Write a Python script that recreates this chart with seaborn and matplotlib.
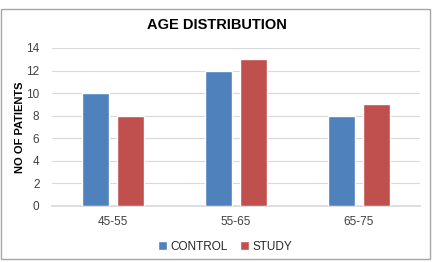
import matplotlib
matplotlib.use('Agg')
import matplotlib.pyplot as plt
import pandas as pd
import seaborn as sns
from matplotlib.patches import Rectangle

# datos del grafico
grupos_edad = ['45-55', '55-65', '65-75']
control = [10, 12, 8]
estudio = [8, 13, 9]

df = pd.DataFrame({
    'edad': grupos_edad * 2,
    'pacientes': control + estudio,
    'grupo': ['CONTROL'] * 3 + ['STUDY'] * 3,
})

sns.set_theme(style='white')
plt.rcParams['font.family'] = ['Liberation Sans Narrow', 'Liberation Sans', 'DejaVu Sans']

fig = plt.figure(figsize=(4.33, 2.62), dpi=100)
ax = fig.add_axes([0.120, 0.214, 0.850, 0.603])

sns.barplot(data=df, x='edad', y='pacientes', hue='grupo',
            palette=['#4F81BD', '#C0504D'], width=0.57, gap=0.23,
            saturation=1, ax=ax, zorder=3)

ax.set_ylim(0, 14)
ax.set_yticks(range(0, 15, 2))
ax.yaxis.grid(True, color='#D9D9D9', linewidth=0.8, zorder=0)
ax.set_axisbelow(True)
for s in ['top', 'right', 'left']:
    ax.spines[s].set_visible(False)
ax.spines['bottom'].set_color('#D9D9D9')
ax.tick_params(axis='both', length=0, labelsize=8.5, colors='#404040')
ax.tick_params(axis='y', pad=9)
ax.tick_params(axis='x', pad=7)
ax.set_xlabel('')
ax.set_ylabel('NO OF PATIENTS', fontsize=8, fontweight='bold', color='black', labelpad=1)

fig.text(0.5, 0.905, 'AGE DISTRIBUTION', ha='center', va='center',
         fontsize=10.5, fontweight='bold', color='black')

ax.legend(loc='upper center', bbox_to_anchor=(0.47, -0.155), ncol=2, frameon=False,
          fontsize=8.5, handlelength=0.8, handleheight=0.8, handletextpad=0.3,
          columnspacing=1.0)

# marco del grafico
fig.patches.append(Rectangle((0.003, 0.01), 0.990, 0.955, transform=fig.transFigure,
                             fill=False, edgecolor='#A6A6A6', linewidth=1.0))

fig.savefig('out.png', dpi=100)
